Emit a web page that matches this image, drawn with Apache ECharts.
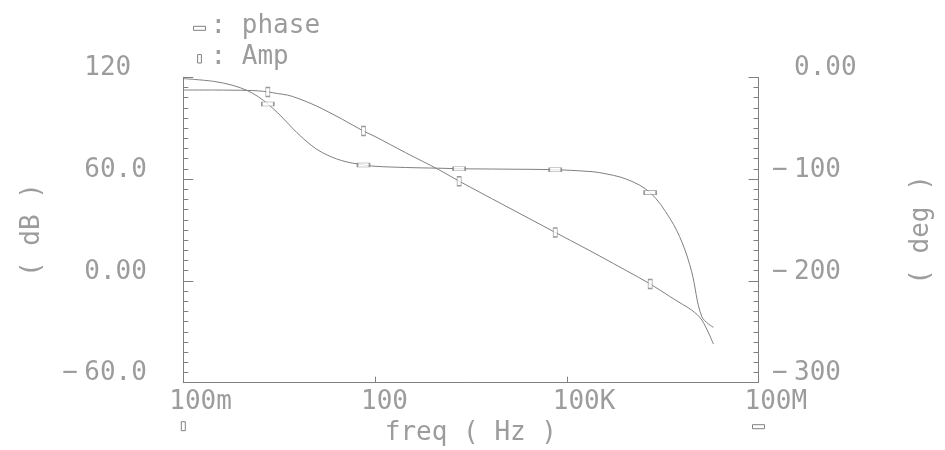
<!DOCTYPE html>
<html>
<head>
<meta charset="utf-8">
<script src="https://cdn.jsdelivr.net/npm/echarts@6/dist/echarts.min.js"></script>
<style>
  html, body { margin: 0; padding: 0; background: #ffffff; }
  #chart { width: 945px; height: 450px; }
</style>
</head>
<body>
<div id="chart"></div>
<script>
// Open-loop response sweep: frequency (Hz), gain (dB) and phase (deg)
const freqHz = [0.1, 0.3, 0.6, 1, 1.5, 2.1, 3, 4.3, 6, 10, 15, 30, 66, 100, 300, 1000, 2070,
  1e4, 6.6e4, 2e5, 3.3e5, 8.7e5, 2.02e6, 4.1e6, 6.4e6, 9e6, 1.3e7, 1.97e7];
const ampDb = [112.5, 112.5, 112.4, 112.3, 112.0, 111.4, 110.4, 109.5, 107.8, 104.5, 101.4, 95.5, 88.3,
  85.1, 75.6, 65.5, 58.8, 45.0, 28.6, 19.0, 14.6, 5.9, -1.8, -9.2, -13.7, -17.2, -23.1, -37.2];
const phaseDeg = [-1.3, -4.0, -8.0, -13.0, -19.2, -26.2, -34.9, -45.0, -54.4, -66.7, -74.0, -81.8, -86.1,
  -87.4, -88.6, -89.3, -89.8, -90.2, -90.8, -92.3, -93.7, -100.2, -113.3, -138.5, -162.5, -191.0, -235.2, -245.6];

// Marker positions along each trace
const markerFreqHz = [2.1, 66, 2070, 66000, 2.02e6];
const ampMarkerDb = [111.4, 88.3, 58.8, 28.6, -1.8];
const phaseMarkerDeg = [-26.2, -86.1, -89.8, -90.8, -113.3];

// Axis ticks and their labels
const xTickValues = [0.1, 100, 1e5, 1e8];
const xTickLabels = ['100m', '100', '100K', '100M'];
const dbTickValues = [-60, 0, 60, 120];
const dbTickLabels = ['−60.0', '0.00', '60.0', '120'];
const degTickValues = [-300, -200, -100, 0];
const degTickLabels = ['−300', '−200', '−100', '0.00'];

const INK = '#808080';
const TEXT = '#9c9c9c';
const FONT = '"DejaVu Sans Mono", "Liberation Mono", monospace';

function pairs(xs, ys) { return xs.map((x, i) => [x, ys[i]]); }

function lookup(values, labels, v) {
  for (let i = 0; i < values.length; i++) {
    if (Math.abs(values[i] - v) < 1e-6 * Math.max(1, Math.abs(v))) return labels[i];
  }
  return '';
}

// Signed labels: sign sits in a fixed slot so the digits line up
function signedLabel(text) {
  if (text.charAt(0) === '−') return '{s|−}{n|' + text.slice(1) + '}';
  return '{s|}{n|' + text + '}';
}

const labelRich = {
  s: { width: 22, fontFamily: FONT, fontSize: 26, color: TEXT, lineHeight: 18 },
  n: { fontFamily: FONT, fontSize: 26, color: TEXT, lineHeight: 18 }
};

const chart = echarts.init(document.getElementById('chart'), null, { renderer: 'canvas' });

const option = {
  backgroundColor: '#ffffff',
  animation: false,
  grid: { left: 183.3, right: 186.5, top: 77.3, bottom: 67.3, outerBoundsMode: 'none' },
  legend: {
    orient: 'vertical',
    left: 193,
    top: 13,
    padding: 0,
    itemGap: 5,
    itemWidth: 12,
    itemHeight: 12,
    selectedMode: false,
    textStyle: { fontFamily: FONT, fontSize: 26, color: TEXT, lineHeight: 26 },
    formatter: name => ': ' + name,
    data: [
      { name: 'phase', icon: 'path://M0,0M12,12M0,6.3L12,6.3L12,10.3L0,10.3Z',
        itemStyle: { color: '#ffffff', borderColor: INK, borderWidth: 1 } },
      { name: 'Amp', icon: 'path://M0,0M12,12M4,3.8L8,3.8L8,12.8L4,12.8Z',
        itemStyle: { color: '#ffffff', borderColor: INK, borderWidth: 1 } }
    ]
  },
  xAxis: {
    type: 'log',
    logBase: 10,
    min: 0.1,
    max: 1e8,
    name: 'freq ( Hz )',
    nameLocation: 'middle',
    nameGap: 37,
    nameTextStyle: { fontFamily: FONT, fontSize: 26, color: TEXT, lineHeight: 26 },
    axisLine: { show: true, onZero: false, lineStyle: { color: INK, width: 1 } },
    axisTick: { show: true, inside: true, length: 6, customValues: xTickValues,
      lineStyle: { color: INK, width: 1 } },
    minorTick: { show: false },
    splitLine: { show: false },
    axisLabel: {
      customValues: xTickValues,
      formatter: v => lookup(xTickValues, xTickLabels, v),
      align: 'left',
      padding: [0, 0, 0, -14],
      margin: 7,
      fontFamily: FONT, fontSize: 26, color: TEXT, lineHeight: 26
    }
  },
  yAxis: [
    {
      type: 'value',
      position: 'left',
      min: -60, max: 120, interval: 60,
      name: '( dB )',
      nameLocation: 'middle',
      nameRotate: 90,
      nameGap: 138,
      nameTextStyle: { fontFamily: FONT, fontSize: 26, color: TEXT, lineHeight: 26 },
      axisLine: { show: true, onZero: false, lineStyle: { color: INK, width: 1 } },
      axisTick: { show: true, inside: true, length: 10, lineStyle: { color: INK, width: 1 } },
      minorTick: { show: true, splitNumber: 10, length: 5, lineStyle: { color: INK, width: 1 } },
      splitLine: { show: false },
      axisLabel: {
        align: 'left',
        verticalAlign: 'bottom',
        margin: 121,
        formatter: v => signedLabel(lookup(dbTickValues, dbTickLabels, v)),
        rich: labelRich
      }
    },
    {
      type: 'value',
      position: 'right',
      min: -300, max: 0, interval: 100,
      name: '( deg )',
      nameLocation: 'middle',
      nameRotate: 90,
      nameGap: 150,
      nameTextStyle: { fontFamily: FONT, fontSize: 26, color: TEXT, lineHeight: 26 },
      axisLine: { show: true, onZero: false, lineStyle: { color: INK, width: 1 } },
      axisTick: { show: true, inside: true, length: 10, lineStyle: { color: INK, width: 1 } },
      minorTick: { show: true, splitNumber: 10, length: 5, lineStyle: { color: INK, width: 1 } },
      splitLine: { show: false },
      axisLabel: {
        align: 'left',
        verticalAlign: 'bottom',
        margin: 13.5,
        formatter: v => signedLabel(lookup(degTickValues, degTickLabels, v)),
        rich: labelRich
      }
    }
  ],
  series: [
    {
      name: 'Amp', type: 'line', yAxisIndex: 0,
      data: pairs(freqHz, ampDb),
      showSymbol: false, smooth: 0.35,
      lineStyle: { color: INK, width: 1 }, itemStyle: { color: INK },
      silent: true, z: 2
    },
    {
      name: 'phase', type: 'line', yAxisIndex: 1,
      data: pairs(freqHz, phaseDeg),
      showSymbol: false, smooth: 0.35,
      lineStyle: { color: INK, width: 1 }, itemStyle: { color: INK },
      silent: true, z: 2
    },
    {
      name: 'Amp', type: 'scatter', yAxisIndex: 0,
      data: pairs(markerFreqHz, ampMarkerDb),
      symbol: 'rect', symbolSize: [4, 9],
      itemStyle: { color: '#ffffff', borderColor: INK, borderWidth: 1 },
      silent: true, z: 3
    },
    {
      name: 'phase', type: 'scatter', yAxisIndex: 1,
      data: pairs(markerFreqHz, phaseMarkerDeg),
      symbol: 'rect', symbolSize: [12, 4],
      itemStyle: { color: '#ffffff', borderColor: INK, borderWidth: 1 },
      silent: true, z: 3
    }
  ]
};

chart.setOption(option);

// Axis keys below the frequency axis: gain uses the left scale, phase the right one
const xLeft = chart.convertToPixel({ xAxisIndex: 0 }, xTickValues[0]);
const xRight = chart.convertToPixel({ xAxisIndex: 0 }, xTickValues[xTickValues.length - 1]);
const yBase = chart.convertToPixel({ yAxisIndex: 0 }, dbTickValues[0]);
chart.setOption({
  graphic: [
    { type: 'rect', shape: { x: xLeft - 2, y: yBase + 39, width: 4, height: 9 },
      style: { fill: '#ffffff', stroke: INK, lineWidth: 1 }, silent: true },
    { type: 'rect', shape: { x: xRight - 6, y: yBase + 42, width: 12, height: 4 },
      style: { fill: '#ffffff', stroke: INK, lineWidth: 1 }, silent: true }
  ]
});
</script>
</body>
</html>
